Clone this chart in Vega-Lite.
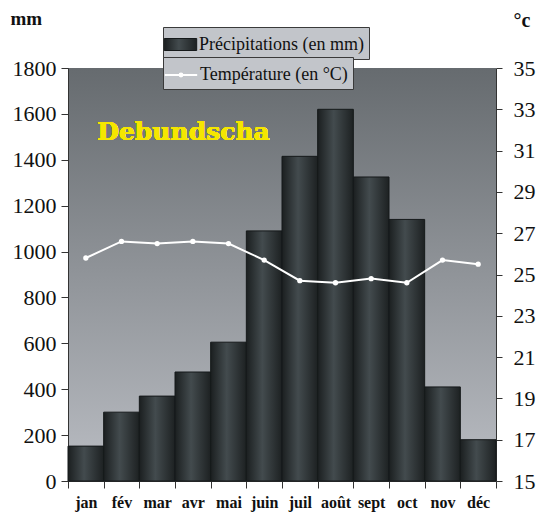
{
  "$schema": "https://vega.github.io/schema/vega-lite/v6.json",
  "width": 428,
  "height": 413,
  "autosize": {"type": "none"},
  "padding": {"left": 68, "top": 68, "right": 55, "bottom": 38},
  "background": "white",
  "config": {
    "view": {
      "stroke": null,
      "fill": {"gradient": "linear", "x1": 0, "y1": 0, "x2": 0, "y2": 1, "stops": [{"offset": 0, "color": "#666b6f"}, {"offset": 1, "color": "#babdc3"}]}
    },
    "font": "Liberation Serif",
    "axis": {"grid": false, "domainColor": "#333333", "tickColor": "#333333", "labelColor": "#111111", "labelFont": "Liberation Serif", "titleFont": "Liberation Serif"},
    "legend": {"fillColor": "#c2c5ca", "strokeColor": "#3a3a3a", "padding": 5, "labelFont": "Liberation Serif", "labelFontSize": 18, "labelColor": "#111111", "labelOffset": 6, "labelLimit": 400, "symbolSize": 576}
  },
  "data": {
    "values": [
      {"mois": "jan", "precip": 152, "temp": 25.8},
      {"mois": "fév", "precip": 300, "temp": 26.6},
      {"mois": "mar", "precip": 370, "temp": 26.5},
      {"mois": "avr", "precip": 475, "temp": 26.6},
      {"mois": "mai", "precip": 605, "temp": 26.5},
      {"mois": "juin", "precip": 1090, "temp": 25.7},
      {"mois": "juil", "precip": 1415, "temp": 24.7},
      {"mois": "août", "precip": 1620, "temp": 24.6},
      {"mois": "sept", "precip": 1325, "temp": 24.8},
      {"mois": "oct", "precip": 1140, "temp": 24.6},
      {"mois": "nov", "precip": 410, "temp": 25.7},
      {"mois": "déc", "precip": 180, "temp": 25.5}
    ]
  },
  "encoding": {
    "x": {
      "field": "mois", "type": "nominal", "sort": null,
      "scale": {"paddingInner": 0, "paddingOuter": 0},
      "axis": {"title": null, "labelAngle": 0, "labelFontSize": 16, "labelFontWeight": "bold", "tickBand": "extent", "tickSize": 7, "labelPadding": 6, "labelColor": "#111111"}
    }
  },
  "layer": [
    {
      "layer": [
        {
          "mark": {
            "type": "bar",
            "fill": {"gradient": "linear", "x1": 0, "y1": 0, "x2": 1, "y2": 0, "stops": [{"offset": 0, "color": "#1b1f20"}, {"offset": 0.45, "color": "#434b4e"}, {"offset": 1, "color": "#1d2122"}]},
            "strokeWidth": 1
          },
          "encoding": {
            "y": {
              "field": "precip", "type": "quantitative",
              "scale": {"domain": [0, 1800], "nice": false},
              "axis": {"values": [0, 200, 400, 600, 800, 1000, 1200, 1400, 1600, 1800], "format": "d", "title": "mm", "titleAngle": 0, "titleAlign": "left", "titleBaseline": "alphabetic", "titleX": -58, "titleY": -44, "titleFontSize": 19, "titleFontWeight": "bold", "titleColor": "#111111", "labelFontSize": 22, "tickSize": 7, "labelPadding": 5}
            },
            "stroke": {
              "datum": "Précipitations (en mm)", "type": "nominal",
              "scale": {"domain": ["Précipitations (en mm)"], "range": ["#15191a"]},
              "legend": {"title": null, "orient": "none", "legendX": 95, "legendY": -41, "symbolType": "M-1.35,-0.5H1.35V0.5H-1.35Z", "symbolStrokeWidth": 1}
            }
          }
        },
        {
          "mark": {"type": "text", "text": "Debundscha", "font": "DejaVu Serif", "fontWeight": "bold", "fontSize": 25, "color": "#f5e600", "align": "left", "baseline": "alphabetic"},
          "encoding": {
            "x": {"datum": "jan", "bandPosition": 0.82},
            "y": {"datum": 1486, "type": "quantitative"}
          }
        }
      ]
    },
    {
      "layer": [
        {
          "mark": {"type": "line", "strokeWidth": 2},
          "encoding": {
            "y": {
              "field": "temp", "type": "quantitative",
              "scale": {"domain": [15, 35], "nice": false, "zero": false},
              "axis": {"orient": "right", "values": [15, 16, 17, 18, 19, 20, 21, 22, 23, 24, 25, 26, 27, 28, 29, 30, 31, 32, 33, 34, 35], "labelExpr": "datum.value % 2 == 1 ? datum.label : ''", "title": "°c", "titleAngle": 0, "titleAlign": "left", "titleBaseline": "alphabetic", "titleX": 17, "titleY": -42, "titleFontSize": 20, "titleFontWeight": "bold", "titleColor": "#111111", "labelFontSize": 22, "tickSize": 6, "labelPadding": 11}
            },
            "color": {
              "datum": "Température (en °C)", "type": "nominal",
              "scale": {"domain": ["Température (en °C)"], "range": ["#ffffff"]},
              "legend": {"title": null, "orient": "none", "legendX": 95, "legendY": -11, "symbolType": "M-1.35,0H1.35M0,-0.12A0.12,0.12,0,1,1,0,0.12A0.12,0.12,0,1,1,0,-0.12", "symbolStrokeWidth": 2}
            }
          }
        },
        {
          "mark": {"type": "point", "filled": true, "color": "#ffffff", "size": 28, "opacity": 1},
          "encoding": {
            "y": {"field": "temp", "type": "quantitative"}
          }
        }
      ]
    }
  ],
  "resolve": {"scale": {"y": "independent"}}
}
